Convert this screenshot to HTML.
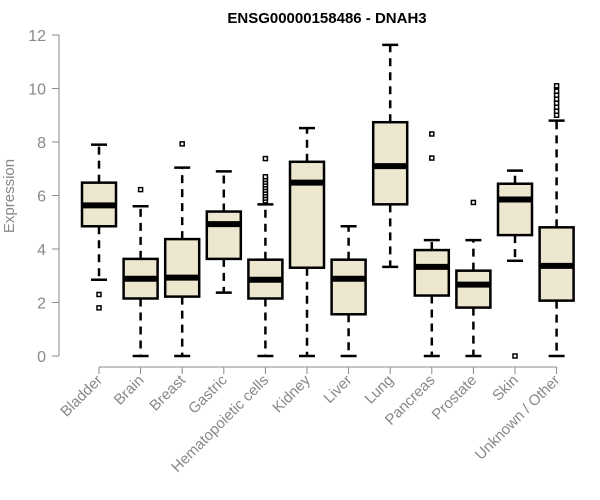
<!DOCTYPE html>
<html><head><meta charset="utf-8"><style>
body{margin:0;background:#fff;}
svg{display:block;font-family:"Liberation Sans",Arial,sans-serif;}
</style></head><body>
<svg id="chart" width="600" height="500" xmlns="http://www.w3.org/2000/svg">
<text x="327" y="23" text-anchor="middle" font-weight="bold" font-size="15">ENSG00000158486 - DNAH3</text>
<text transform="translate(14,196) rotate(-90)" text-anchor="middle" font-size="15" fill="#888">Expression</text>
<g id="g"></g>
</svg>
<script>
const categories=["Bladder","Brain","Breast","Gastric","Hematopoietic cells","Kidney","Liver","Lung","Pancreas","Prostate","Skin","Unknown / Other"];
const whiskerLow=[2.85,0,0,2.37,0,0,0,3.33,0,0,3.56,0];
const q1=[4.85,2.15,2.22,3.63,2.15,3.3,1.56,5.67,2.26,1.81,4.52,2.07];
const medians=[5.63,2.89,2.93,4.93,2.85,6.48,2.89,7.1,3.33,2.67,5.85,3.37];
const q3=[6.48,3.63,4.37,5.4,3.6,7.26,3.6,8.74,3.96,3.19,6.44,4.81];
const whiskerHigh=[7.9,5.6,7.04,6.9,5.67,8.52,4.85,11.63,4.33,4.33,6.93,8.8];
const outliers=[[2.3,1.8],[6.22],[7.93],[],[5.8,5.9,6.0,6.1,6.2,6.3,6.4,6.5,6.6,6.7,7.38],[],[],[],[8.3,7.4],[5.74],[0],[9.0,9.15,9.3,9.45,9.6,9.75,9.9,10.1]];
const yTicks=[0,2,4,6,8,10,12];
const NS="http://www.w3.org/2000/svg";
const g=document.getElementById("g");
const y=v=>356-v*(321/12);
const x=i=>99+i*41.6;
function el(t,a){const e=document.createElementNS(NS,t);for(const k in a)e.setAttribute(k,a[k]);g.appendChild(e);return e;}
let ax=el("line",{x1:59,x2:59,y1:y(0),y2:y(12),stroke:"#888","stroke-width":1});


yTicks.forEach(t=>{
 let l=el("line",{x1:52,x2:59,y1:y(t),y2:y(t),stroke:"#888"});
 
 
 let tx=el("text",{x:46,y:y(t)+6,"text-anchor":"end","font-size":16,fill:"#888"});
 tx.textContent=t;
 
 
});
let xa=el("line",{x1:x(0),x2:x(categories.length-1),y1:367,y2:367,stroke:"#888"});


categories.forEach((c,i)=>{
 const cx=x(i),hw=17;
 let t=el("line",{x1:cx,x2:cx,y1:367,y2:374,stroke:"#888"});
 
 
 let lb=el("text",{transform:`translate(${cx+4},${381}) rotate(-45)`,"text-anchor":"end","font-size":15,fill:"#888"});
 lb.textContent=c;
 
 
 let w1=el("line",{x1:cx,x2:cx,y1:y(q3[i]),y2:y(whiskerHigh[i]),stroke:"#000","stroke-width":2.5,"stroke-dasharray":"8,6"});
 
 
 let w2=el("line",{x1:cx,x2:cx,y1:y(q1[i]),y2:y(whiskerLow[i]),stroke:"#000","stroke-width":2.5,"stroke-dasharray":"8,6"});
 
 
 [whiskerHigh[i],whiskerLow[i]].forEach(v=>{
  let cp=el("line",{x1:cx-8,x2:cx+8,y1:y(v),y2:y(v),stroke:"#000","stroke-width":2.5});
  
  
 });
 let b=el("rect",{x:cx-hw,y:y(q3[i]),width:hw*2,height:y(q1[i])-y(q3[i]),fill:"#ede7cf",stroke:"#000","stroke-width":2.5});
 
 
 let m=el("line",{x1:cx-hw,x2:cx+hw,y1:y(medians[i]),y2:y(medians[i]),stroke:"#000","stroke-width":6});
 
 
 outliers[i].forEach(v=>{
  let o=el("rect",{x:cx-2,y:y(v)-2,width:4,height:4,fill:"#fff",stroke:"#000","stroke-width":1.5});
  
  
 });
});
</script>
</body></html>
